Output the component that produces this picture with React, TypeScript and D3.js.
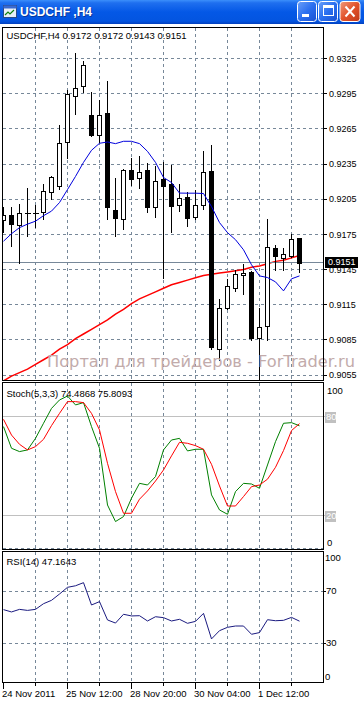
import React from 'react';
import * as d3 from 'd3';

// ---- Data (USDCHF, H4) ----
const opens = [0.9187, 0.9192, 0.9183, 0.9193, 0.9193, 0.9194, 0.9211, 0.9216, 0.9254, 0.9293, 0.9302, 0.9277, 0.9260, 0.9279, 0.9196, 0.9188, 0.9230, 0.9223, 0.9230, 0.9198, 0.9222, 0.9218, 0.9200, 0.9207, 0.9190, 0.9200, 0.9229, 0.9077, 0.9112, 0.9129, 0.9140, 0.9143, 0.9087, 0.9097, 0.9163, 0.9155, 0.9157, 0.9172];
const highs = [0.9198, 0.9198, 0.9201, 0.9215, 0.9200, 0.9218, 0.9225, 0.9268, 0.9298, 0.9330, 0.9323, 0.9297, 0.9290, 0.9306, 0.9223, 0.9231, 0.9240, 0.9242, 0.9236, 0.9233, 0.9237, 0.9234, 0.9218, 0.9211, 0.9213, 0.9246, 0.9251, 0.9120, 0.9137, 0.9145, 0.9150, 0.9144, 0.9112, 0.9188, 0.9166, 0.9163, 0.9175, 0.9172];
const lows = [0.9177, 0.9165, 0.9151, 0.9174, 0.9181, 0.9188, 0.9205, 0.9214, 0.9240, 0.9278, 0.9297, 0.9259, 0.9254, 0.9188, 0.9174, 0.9180, 0.9217, 0.9215, 0.9194, 0.9190, 0.9138, 0.9177, 0.9195, 0.9182, 0.9188, 0.9197, 0.9077, 0.9068, 0.9111, 0.9127, 0.9124, 0.9085, 0.9051, 0.9085, 0.9145, 0.9145, 0.9156, 0.9143];
const closes = [0.9192, 0.9184, 0.9193, 0.9193, 0.9193, 0.9212, 0.9224, 0.9253, 0.9295, 0.9300, 0.9320, 0.9260, 0.9277, 0.9198, 0.9189, 0.9230, 0.9222, 0.9228, 0.9198, 0.9221, 0.9216, 0.9199, 0.9206, 0.9189, 0.9200, 0.9228, 0.9079, 0.9112, 0.9131, 0.9141, 0.9142, 0.9087, 0.9096, 0.9164, 0.9157, 0.9158, 0.9171, 0.9151];

const maFast = [0.91692, 0.91756, 0.91808, 0.91838, 0.91863, 0.9191, 0.91949, 0.92022, 0.92133, 0.92245, 0.92365, 0.92468, 0.92528, 0.92539, 0.92525, 0.92545, 0.92545, 0.92525, 0.92459, 0.92365, 0.92236, 0.92193, 0.92103, 0.92102, 0.92102, 0.92099, 0.91988, 0.91851, 0.91765, 0.91705, 0.91619, 0.91491, 0.91396, 0.91382, 0.91345, 0.91268, 0.91371, 0.91396];
const maSlow = [0.9050, 0.9054, 0.9057, 0.9060, 0.9064, 0.9068, 0.9072, 0.9077, 0.9081, 0.9086, 0.9090, 0.9094, 0.9098, 0.9102, 0.9107, 0.9111, 0.9116, 0.9120, 0.9123, 0.9126, 0.9129, 0.9132, 0.9134, 0.9136, 0.9138, 0.9140, 0.9141, 0.9142, 0.9143, 0.9144, 0.9145, 0.9147, 0.9148, 0.9150, 0.9152, 0.9153, 0.9155, 0.9157];

const stochMain = [74, 60.9, 58.9, 59.9, 66.9, 76, 85, 90.1, 92.5, 87.1, 88.5, 74, 60.9, 26.6, 16.6, 19.6, 30.7, 39.7, 38.7, 43.8, 59.9, 65.9, 66.9, 59.3, 60.3, 60.3, 32.7, 23.6, 21, 34.7, 39.7, 39.3, 36.7, 50.8, 64.9, 76, 76.4, 74.49];
const stochSignal = [78.4, 68.9, 63.3, 59.9, 61.9, 66.3, 74.6, 82, 89.1, 89.1, 88.5, 82, 72, 51.8, 34.7, 21.6, 21.6, 30.1, 35.1, 41.1, 47.8, 56.3, 64.5, 63.9, 62.5, 60.3, 51.2, 38.1, 26, 26, 31.7, 37.7, 38.7, 42.2, 49.4, 59.5, 71.6, 75.81];
const rsiValues = [56.1, 54.3, 56.3, 55.5, 56.3, 60.7, 63.3, 68.2, 73.4, 74.6, 77, 59.7, 62.3, 48.1, 45.7, 52.5, 51.2, 51.4, 47.3, 50.6, 49.9, 47.3, 48.6, 45.5, 47, 53.2, 33.4, 39.8, 42.4, 43.4, 43.4, 37, 38.3, 48.3, 47.5, 47.8, 50.1, 47.16];

const priceTicks = [0.9325, 0.9295, 0.9265, 0.9235, 0.9205, 0.9175, 0.9145, 0.9115, 0.9085, 0.9055];
const timeLabels = ['24 Nov 2011', '25 Nov 12:00', '28 Nov 20:00', '30 Nov 04:00', '1 Dec 12:00'];
const timeLabelBars = [0, 8, 16, 24, 32];
const gridBars = [4, 8, 12, 16, 20, 24, 28, 32, 36];
const stochLevels = [80, 20];
const rsiLevels = [70, 30];
const headerText = 'USDCHF,H4  0.9172 0.9172 0.9143 0.9151';
const stochText = 'Stoch(5,3,3) 74.4868 75.8093';
const rsiText = 'RSI(14) 47.1643';
const lastPrice = 0.9151;
const watermark = 'Портал для трейдеров - ForTrader.ru';

const GRID = '#778899';
const FONT = "'Liberation Sans', Arial, sans-serif";

export default function App() {
  const W = 364, H = 701;
  const n = closes.length;
  const x = d3.scaleLinear().domain([0, n - 1]).range([3.5, 3.5 + 8 * (n - 1)]);
  const yP = d3.scaleLinear().domain([0.9055, 0.9325]).range([375, 58.7]);
  const yS = d3.scaleLinear().domain([0, 100]).range([549, 383.6]);
  const yR = d3.scaleLinear().domain([0, 100]).range([682, 553]);
  const snap = (v: number) => Math.round(v - 0.5) + 0.5;

  const main = { l: 2.5, r: 323.5, t: 27.5, b: 380.5 };
  const st = { l: 2.5, r: 323.5, t: 382.5, b: 549.5 };
  const rs = { l: 2.5, r: 323.5, t: 551.5, b: 682.5 };

  const priceLine = (arr: number[]) =>
    d3.line<number>().x((_, i) => x(i)).y(d => yP(d))(arr) || '';
  const stLine = (arr: number[]) =>
    d3.line<number>().x((_, i) => x(i)).y(d => yS(d))(arr) || '';
  const rsLine = d3.line<number>().x((_, i) => x(i)).y(d => yR(d))(rsiValues) || '';

  const vgrid = (p: { t: number; b: number }) =>
    gridBars.map(g => (
      <line key={'vg' + g} x1={snap(x(g))} x2={snap(x(g))} y1={p.t} y2={p.b}
        stroke={GRID} strokeDasharray="3,3" />
    ));

  return (
    <svg width={W} height={H} style={{ position: 'absolute', left: 0, top: 0, background: '#fff' }}
      fontFamily={FONT} shapeRendering="crispEdges">
      <defs>
        <linearGradient id="tb" x1="0" y1="0" x2="0" y2="1">
          <stop offset="0" stopColor="#3b8ffb" />
          <stop offset="0.12" stopColor="#1f6fef" />
          <stop offset="0.5" stopColor="#0458e6" />
          <stop offset="0.88" stopColor="#0354e0" />
          <stop offset="1" stopColor="#0241c0" />
        </linearGradient>
        <linearGradient id="btn" x1="0" y1="0" x2="1" y2="1">
          <stop offset="0" stopColor="#6a9ff8" />
          <stop offset="0.5" stopColor="#2b6ff0" />
          <stop offset="1" stopColor="#1a50d0" />
        </linearGradient>
        <linearGradient id="btnRed" x1="0" y1="0" x2="1" y2="1">
          <stop offset="0" stopColor="#f09b7c" />
          <stop offset="0.5" stopColor="#e2522a" />
          <stop offset="1" stopColor="#c0391a" />
        </linearGradient>
        <clipPath id="clipMain"><rect x={3} y={28} width={320} height={352} /></clipPath>
        <clipPath id="clipSt"><rect x={3} y={383} width={320} height={166} /></clipPath>
        <clipPath id="clipRs"><rect x={3} y={552} width={320} height={130} /></clipPath>
      </defs>

      {/* Title bar */}
      <rect x={0} y={0} width={W} height={24} fill="url(#tb)" />
      <g shapeRendering="auto">
        <rect x={3.5} y={5.5} width={13} height={12} fill="#e8eef8" stroke="#2a4a8a" />
        <rect x={3.5} y={5.5} width={13} height={3} fill="#3a6ad0" />
        <polyline points="5,15 8,12 10,14 14,10" fill="none" stroke="#108010" strokeWidth={1.2} />
        <text x={21} y={17} fill="#0a246a" fontSize={12} fontWeight="bold" opacity={0.6}>USDCHF ,H4</text>
        <text x={20} y={16} fill="#ffffff" fontSize={12} fontWeight="bold">USDCHF ,H4</text>
        <rect x={297.5} y={1.5} width={19} height={20} rx={3} fill="url(#btn)" stroke="#fff" />
        <rect x={302} y={14} width={7} height={3} fill="#fff" />
        <rect x={318.5} y={1.5} width={19} height={20} rx={3} fill="url(#btn)" stroke="#fff" />
        <rect x={323.5} y={5.5} width={10} height={10} fill="none" stroke="#fff" />
        <rect x={323.5} y={5.5} width={10} height={2.5} fill="#fff" />
        <rect x={340} y={1.5} width={20} height={20} rx={3} fill="url(#btnRed)" stroke="#fff" />
        <line x1={345.5} y1={6.5} x2={354.5} y2={16.5} stroke="#fff" strokeWidth={2} />
        <line x1={354.5} y1={6.5} x2={345.5} y2={16.5} stroke="#fff" strokeWidth={2} />
      </g>

      {/* ===== Main price panel ===== */}
      {priceTicks.map(p => (
        <line key={'hg' + p} x1={3} x2={323} y1={snap(yP(p))} y2={snap(yP(p))}
          stroke={GRID} strokeDasharray="3,3" />
      ))}
      {vgrid(main)}

      <g clipPath="url(#clipMain)">
        <path d={priceLine(maSlow)} fill="none" stroke="#ff0000" strokeWidth={1.5} shapeRendering="auto" />
        <line x1={3} x2={323} y1={snap(yP(lastPrice))} y2={snap(yP(lastPrice))} stroke={GRID} />
        {closes.map((c, i) => {
          const o = opens[i];
          const cx = snap(x(i));
          const wick = (
            <line x1={cx} x2={cx} y1={Math.round(yP(highs[i]))} y2={Math.round(yP(lows[i])) + 1} stroke="#000" />
          );
          if (Math.abs(c - o) < 0.00005) {
            const yy = snap(yP(c));
            return (
              <g key={i}>
                {wick}
                <line x1={cx - 3} x2={cx + 3} y1={yy} y2={yy} stroke="#000" />
              </g>
            );
          }
          const top = Math.round(yP(Math.max(o, c)));
          const bot = Math.round(yP(Math.min(o, c)));
          if (c > o) {
            return (
              <g key={i}>
                {wick}
                <rect x={cx - 2} y={top + 0.5} width={4} height={Math.max(1, bot - top)} fill="#fff" stroke="#000" />
              </g>
            );
          }
          return (
            <g key={i}>
              {wick}
              <rect x={cx - 2.5} y={top} width={5} height={Math.max(1, bot - top + 1)} fill="#000" />
            </g>
          );
        })}
        <path d={priceLine(maFast)} fill="none" stroke="#0000dd" strokeWidth={1} shapeRendering="auto" />
      </g>

      <text x={47} y={366.5} fontFamily="'DejaVu Sans', sans-serif" fontSize={16} fill="#c2abab"
        textLength={308} lengthAdjust="spacingAndGlyphs" shapeRendering="auto">{watermark}</text>

      <rect x={main.l} y={main.t} width={main.r - main.l} height={main.b - main.t} fill="none" stroke="#000" />
      <text x={6.5} y={35.5} dy="0.35em" fontSize={9.5} fill="#000">{headerText}</text>

      {/* Price axis */}
      {priceTicks.map(p => (
        <g key={'pt' + p}>
          <line x1={323} x2={327} y1={snap(yP(p))} y2={snap(yP(p))} stroke="#000" />
          <text x={329} y={yP(p)} dy="0.35em" fontSize={9} fill="#000">{p.toFixed(4)}</text>
        </g>
      ))}
      <rect x={325} y={Math.round(yP(lastPrice)) - 6} width={33} height={11} fill="#000" />
      <text x={328} y={yP(lastPrice)} dy="0.3em" fontSize={9} fill="#fff">{lastPrice.toFixed(4)}</text>

      {/* ===== Stochastic panel ===== */}
      {vgrid(st)}
      <line x1={3} x2={323} y1={548.5} y2={548.5} stroke={GRID} strokeDasharray="3,3" />
      {stochLevels.map(l => (
        <line key={'sl' + l} x1={3} x2={325} y1={snap(yS(l))} y2={snap(yS(l))} stroke="#c0c0c0" />
      ))}
      <g clipPath="url(#clipSt)" shapeRendering="auto">
        <path d={stLine(stochMain)} fill="none" stroke="#008000" strokeWidth={1} />
        <path d={stLine(stochSignal)} fill="none" stroke="#ff0000" strokeWidth={1} />
      </g>
      <rect x={st.l} y={st.t} width={st.r - st.l} height={st.b - st.t} fill="none" stroke="#000" />
      <text x={6.5} y={393.3} dy="0.35em" fontSize={9.5} fill="#000">{stochText}</text>
      <text x={327} y={yS(100) + 7} dy="0.35em" fontSize={9.5} fill="#000">100</text>
      <text x={327} y={yS(0) - 6.5} dy="0.35em" fontSize={9.5} fill="#000">0</text>
      {stochLevels.map(l => (
        <g key={'sb' + l}>
          <rect x={325} y={Math.round(yS(l)) - 5} width={11} height={11} fill="#c0c0c0" />
          <text x={326} y={yS(l)} dy="0.35em" fontSize={9.5} fill="#fff">{l}</text>
        </g>
      ))}

      {/* ===== RSI panel ===== */}
      {vgrid(rs)}
      {rsiLevels.map(l => (
        <line key={'rl' + l} x1={3} x2={323} y1={snap(yR(l))} y2={snap(yR(l))} stroke={GRID} strokeDasharray="3,3" />
      ))}
      <g clipPath="url(#clipRs)" shapeRendering="auto">
        <path d={rsLine} fill="none" stroke="#1a1a80" strokeWidth={1} />
      </g>
      <rect x={rs.l} y={rs.t} width={rs.r - rs.l} height={rs.b - rs.t} fill="none" stroke="#000" />
      <text x={6.5} y={561.7} dy="0.35em" fontSize={9.5} fill="#000">{rsiText}</text>
      <text x={325} y={yR(100) + 5} dy="0.35em" fontSize={9.5} fill="#000">100</text>
      {rsiLevels.map(l => (
        <g key={'rt' + l}>
          <line x1={323} x2={326} y1={snap(yR(l))} y2={snap(yR(l))} stroke="#000" />
          <text x={326} y={yR(l) - 1} dy="0.35em" fontSize={9.5} fill="#000">{l}</text>
        </g>
      ))}
      <text x={325} y={yR(0) - 5} dy="0.35em" fontSize={9.5} fill="#000">0</text>

      {/* Time axis */}
      {gridBars.map(g => (
        <line key={'mt' + g} x1={snap(x(g))} x2={snap(x(g))} y1={683} y2={686} stroke="#000" />
      ))}
      {timeLabelBars.map((b, i) => (
        <g key={'tl' + b}>
          <line x1={snap(x(b))} x2={snap(x(b))} y1={683} y2={689} stroke="#000" />
          <text x={x(b) - 1.5} y={693.3} dy="0.35em" fontSize={9.5} fill="#000">{timeLabels[i]}</text>
        </g>
      ))}
    </svg>
  );
}
